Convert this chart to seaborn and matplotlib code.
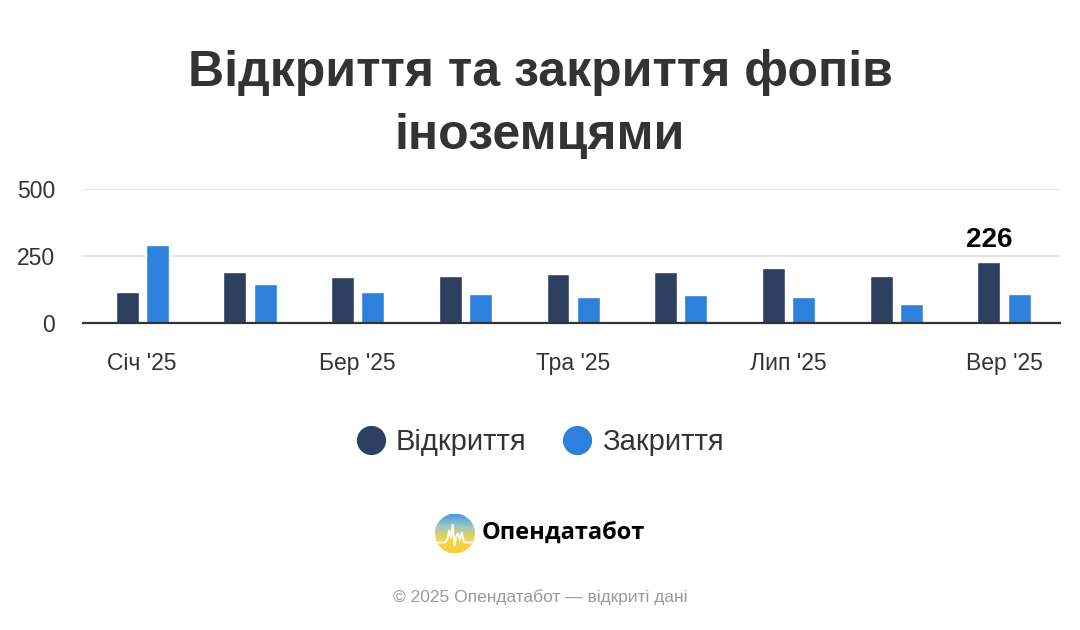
import numpy as np
import pandas as pd
import matplotlib
matplotlib.use("Agg")
import matplotlib.pyplot as plt
import seaborn as sns
from matplotlib.lines import Line2D
from matplotlib.patches import Circle
from matplotlib.colors import LinearSegmentedColormap

# ---- data ----
months = ["Січ '25", "Лют '25", "Бер '25", "Кві '25", "Тра '25",
          "Чер '25", "Лип '25", "Сер '25", "Вер '25"]
opened = [116, 191, 171, 177, 184, 191, 204, 177, 226]
closed = [291, 144, 116, 110, 96, 103, 96, 70, 110]
series_names = ["Відкриття", "Закриття"]
y_ticks = [0, 250, 500]
title = "Відкриття та закриття фопів\nіноземцями"
brand = "Опендатабот"
footer = "© 2025 Опендатабот — відкриті дані"

dark = "#2E3F5F"
blue = "#2D80DB"

df = pd.DataFrame({
    "month": months * 2,
    "value": opened + closed,
    "series": [series_names[0]] * len(months) + [series_names[1]] * len(months),
})

sns.set_theme(style="white")
plt.rcParams["font.family"] = ["Liberation Sans", "DejaVu Sans"]

W, H = 1080, 630
fig = plt.figure(figsize=(W / 100, H / 100), dpi=100)
fig.patch.set_facecolor("white")

def fx(px):
    return px / W

def fy(py):
    return 1 - py / H

ax = fig.add_axes([fx(83), fy(323), fx(1060) - fx(83), fy(189) - fy(323)])
sns.barplot(data=df, x="month", y="value", hue="series", order=months,
            hue_order=series_names, palette=[dark, blue], width=0.56, gap=0.24,
            ax=ax, legend=False, saturation=1)

ax.set_xlim(-0.55, 8.52)
ax.set_ylim(0, 500)
ax.set_yticks(y_ticks)
ax.set_yticklabels([str(v) for v in y_ticks], fontsize=16.5, color="#333333")
ax.set_xticks(range(len(months)))
ax.set_xticklabels([m if i % 2 == 0 else "" for i, m in enumerate(months)],
                   fontsize=16.5, color="#333333")
ax.tick_params(axis="both", length=0)
ax.tick_params(axis="x", pad=21)
ax.tick_params(axis="y", pad=20)
ax.set_xlabel("")
ax.set_ylabel("")
ax.grid(axis="y", color="#e6e6e6", linewidth=1.5)
ax.set_axisbelow(True)
for s in ["top", "right", "left"]:
    ax.spines[s].set_visible(False)
ax.spines["bottom"].set_color("#333333")
ax.spines["bottom"].set_linewidth(1.6)
ax.spines["bottom"].set_zorder(5)

# label on last dark bar
bar = ax.patches[len(months) - 1]
ax.annotate(str(opened[-1]), (bar.get_x() + bar.get_width() / 2, bar.get_height()),
            xytext=(0, 7), textcoords="offset points", ha="center", va="bottom",
            fontsize=20, fontweight="bold", color="black")

# title
fig.text(0.5, fy(104), title, ha="center", va="center", fontsize=36,
         fontweight="bold", color="#333333", linespacing=1.48)

# legend
handles = [Line2D([], [], marker="o", linestyle="", markersize=20,
                  markerfacecolor=c, markeredgecolor=c) for c in (dark, blue)]
leg = fig.legend(handles, series_names, loc="center", bbox_to_anchor=(0.5, fy(442)),
                 ncol=2, frameon=False, fontsize=21, handlelength=1.0,
                 handletextpad=0.33, columnspacing=1.26, labelcolor="#333333")

# logo
lax = fig.add_axes([fx(435), fy(554), fx(40), fy(513) - fy(554)])
grad = np.linspace(0, 1, 100)[:, None] * np.ones((1, 100))
cmap = LinearSegmentedColormap.from_list("lg", ["#3f97e8", "#9cc7c0", "#f3d64a", "#f5cf3f"])
im = lax.imshow(grad, cmap=cmap, extent=(-1, 1, -1, 1), origin="upper")
circ = Circle((0, 0), 1, transform=lax.transData)
im.set_clip_path(circ)
wx = [-1, -0.5, -0.38, -0.3, -0.2, -0.12, -0.02, 0.06, 0.14, 0.24, 0.34, 0.45, 1]
wy = [-0.45, -0.45, -0.3, 0.15, -0.2, 0.45, -0.6, -0.15, 0.0, -0.3, 0.05, -0.45, -0.45]
wl, = lax.plot(wx, wy, color="white", lw=1.3)
wl.set_clip_path(circ)
lax.set_xlim(-1, 1)
lax.set_ylim(-1, 1)
lax.axis("off")

fig.text(fx(482), fy(533), brand, ha="left", va="center", fontsize=17,
         fontweight="bold", color="black", family=["Open Sans", "DejaVu Sans"])

fig.text(0.5, fy(597), footer, ha="center", va="center", fontsize=12.5,
         color="#9a9a9a")

fig.savefig("out.png", dpi=100, facecolor="white")
